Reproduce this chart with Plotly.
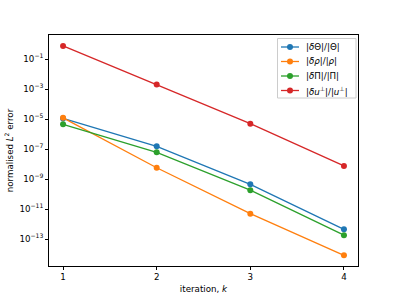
import plotly.graph_objects as go

iterations = [1, 2, 3, 4]
err_theta = [1.1e-5, 1.5e-7, 4.4e-10, 4.4e-13]
err_rho = [1.2e-5, 5.6e-9, 4.9e-12, 8.2e-15]
err_pi = [4.4e-6, 6.0e-8, 1.8e-10, 1.8e-13]
err_uperp = [0.74, 2.0e-3, 4.9e-6, 7.4e-9]

series_names = ["|<i>δ</i>Θ|/|Θ|", "|<i>δρ</i>|/|<i>ρ</i>|", "|<i>δ</i>Π|/|Π|",
                "|<i>δu</i><sup>⊥</sup>|/|<i>u</i><sup>⊥</sup>|"]
series_vals = [err_theta, err_rho, err_pi, err_uperp]
colors = ["#1f77b4", "#ff7f0e", "#2ca02c", "#d62728"]

ytick_exps = [-1, -3, -5, -7, -9, -11, -13]
ytick_vals = [10.0 ** e for e in ytick_exps]
ytick_text = ["10<sup>−%d</sup>" % (-e) for e in ytick_exps]

W, H = 399, 299
L, R, T, B = 49, 358, 35, 266
pw, ph = R - L, B - T


def px(x):
    return (x - L) / pw


def py(y):
    return (B - y) / ph


fig = go.Figure()
for name, vals, c in zip(series_names, series_vals, colors):
    fig.add_trace(go.Scatter(x=iterations, y=vals, name=name, mode="lines+markers",
                             line=dict(color=c, width=1.3),
                             marker=dict(color=c, size=6), showlegend=False))

font = dict(family="DejaVu Sans", size=8.7, color="black")

# custom legend (matplotlib-like compact layout)
shapes = [dict(type="rect", xref="paper", yref="paper", x0=px(277.5), x1=px(356),
               y0=py(98), y1=py(38.5), line=dict(color="#cccccc", width=1),
               fillcolor="rgba(255,255,255,0.8)", layer="above")]
annotations = []
row_y = [47, 61.5, 76, 90.5]
for name, c, ry in zip(series_names, colors, row_y):
    shapes.append(dict(type="line", xref="paper", yref="paper", x0=px(281), x1=px(299),
                       y0=py(ry), y1=py(ry), line=dict(color=c, width=1.3), layer="above"))
    shapes.append(dict(type="circle", xref="paper", yref="paper", x0=px(287), x1=px(293),
                       y0=py(ry + 3), y1=py(ry - 3), line=dict(color=c, width=0),
                       fillcolor=c, layer="above"))
    annotations.append(dict(text=name, xref="paper", yref="paper", x=px(304), y=py(ry),
                            xanchor="left", yanchor="middle", showarrow=False, font=font))

fig.update_layout(
    width=W, height=H,
    margin=dict(l=L, r=W - R, t=T, b=H - B),
    paper_bgcolor="white", plot_bgcolor="white",
    font=font,
    showlegend=False,
    shapes=shapes,
    annotations=annotations,
)
fig.update_xaxes(range=[0.85, 4.15], tickvals=iterations, ticktext=[str(i) for i in iterations],
                 showgrid=False, zeroline=False, showline=True, linecolor="black", linewidth=0.8,
                 mirror=True, ticks="outside", ticklen=3, tickwidth=0.8, tickcolor="black",
                 automargin=False,
                 title=dict(text="iteration, <i>k</i>", standoff=4, font=font))
fig.update_yaxes(type="log", range=[-14.8, 0.6], tickvals=ytick_vals, ticktext=ytick_text,
                 showgrid=False, zeroline=False, showline=True, linecolor="black", linewidth=0.8,
                 mirror=True, ticks="outside", ticklen=3, tickwidth=0.8, tickcolor="black",
                 automargin=False,
                 title=dict(text="normalised <i>L</i><sup>2</sup> error", standoff=4, font=font))

fig.write_html("out.html", config={"displayModeBar": False},
               post_script="document.body.style.margin='0';document.body.style.padding='0';")
